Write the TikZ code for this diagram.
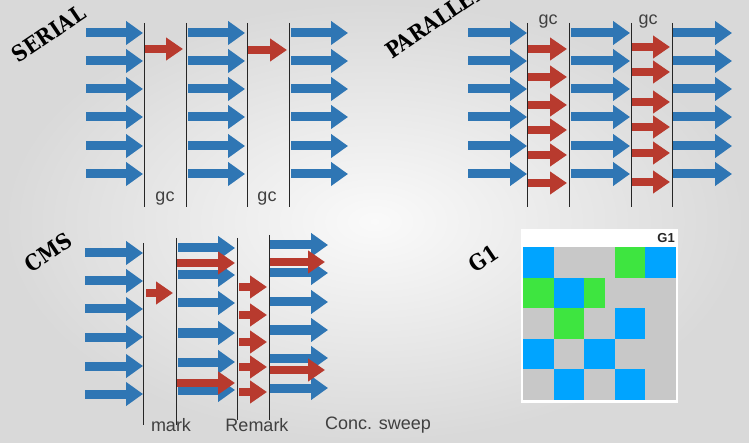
\documentclass[tikz,border=0pt]{standalone}
\usepackage{fontspec}
\usepackage{tikz}
\usetikzlibrary{arrows.meta}
\newfontfamily\lblfont{Liberation Sans}
\newfontfamily\stampfont{DejaVu Serif}[FakeStretch=0.88]
\definecolor{gcblue}{RGB}{47,118,180}
\definecolor{gcred}{RGB}{184,58,46}
\definecolor{gblue}{RGB}{0,164,255}
\definecolor{ggreen}{RGB}{62,229,64}
\definecolor{ggray}{RGB}{200,200,200}

\begin{document}
\begin{tikzpicture}[x=1pt, y=-1pt,
    bar/.style={draw=gcblue, line width=9pt, -{Triangle[length=17pt, width=23pt]}},
    rar/.style={draw=gcred, line width=8pt, -{Triangle[length=17pt, width=22pt]}},
    cut/.style={line width=1pt, black!85},
    lbl/.style={font=\lblfont\fontsize{18}{21}\selectfont, text=black!75, inner sep=0pt},
    stamp/.style={font=\stampfont\bfseries\fontsize{22}{25}\selectfont, rotate=34, anchor=south west, inner sep=0pt}]
  \clip (0,0) rectangle (749,443);
  \shade[inner color=gray!4, outer color=gray!30] (0,0) rectangle (749,443);

  % serial
  \node[stamp] (serial) at (19,64) {SERIAL};
  \foreach \x in {86,188,291}
    \foreach \y in {33,61,89,117,146,174}
      \draw[bar] (\x,\y) -- (\x+57,\y);
  \draw[rar] (145,49) -- (183,49);
  \draw[rar] (248,50) -- (287,50);
  \foreach \x in {144,186,247,289}
    \draw[cut] (\x,23) -- (\x,207);
  \node[lbl] (gcs1) at (165,199) {gc};
  \node[lbl] (gcs2) at (267,199) {gc};

  % parallel
  \node[stamp] (parallel) at (392,60) {PARALLEL};
  \foreach \x in {468,571,673}
    \foreach \y in {33,61,89,117,146,174}
      \draw[bar] (\x,\y) -- (\x+59,\y);
  \foreach \y in {49,77,105,130,155,183}
    \draw[rar] (527,\y) -- (567,\y);
  \foreach \y in {47,72,102,127,153,182}
    \draw[rar] (632,\y) -- (670,\y);
  \foreach \x in {527,569,631,672}
    \draw[cut] (\x,23) -- (\x,207);
  \node[lbl] (gcp1) at (548,22) {gc};
  \node[lbl] (gcp2) at (648,22) {gc};

  % cms
  \node[stamp] (cms) at (32,274) {CMS};
  \foreach \y in {253,281,309,337,366,394}
    \draw[bar] (85,\y) -- (143,\y);
  \draw[rar] (146,293) -- (173,293);
  \foreach \y in {248,275,303,333,362,390}
    \draw[bar] (178,\y) -- (235,\y);
  \foreach \y in {263,383}
    \draw[rar] (177,\y) -- (235,\y);
  \foreach \y in {287,315,342,367,392}
    \draw[rar] (239,\y) -- (267,\y);
  \foreach \y in {245,273,302,330,358,388}
    \draw[bar] (270,\y) -- (328,\y);
  \foreach \y in {262,370}
    \draw[rar] (269,\y) -- (325,\y);
  \foreach \x/\a/\b in {143/243/425, 176/238/425, 237/238/420, 269/235/420}
    \draw[cut] (\x,\a) -- (\x,\b);
  \node[lbl] (mark) at (171,425) {mark};
  \node[lbl] (remark) at (257,425) {Remark};
  \node[lbl] (sweep) at (378,425) {Conc. sweep};

  % g1
  \node[stamp] (g1) at (476,274) {G1};
  \fill[white] (521,229) rectangle (678,403);
  \fill[ggray] (523,247) rectangle (676,400);
  \foreach \c/\r in {0/0, 4/0, 1/1, 3/2, 0/3, 2/3, 1/4, 3/4}
    \fill[gblue] ({523+30.6*\c},{247+30.6*\r}) rectangle ++(30.6,30.6);
  \foreach \c/\r in {3/0, 0/1, 1/2}
    \fill[ggreen] ({523+30.6*\c},{247+30.6*\r}) rectangle ++(30.6,30.6);
  \fill[ggreen] ({523+30.6*2},{247+30.6}) rectangle ++(20.4,30.6);
  \node[font=\lblfont\bfseries\fontsize{13}{15}\selectfont, text=black!85, anchor=east, inner sep=0pt] (g1title) at (675,238) {G1};
\end{tikzpicture}
\end{document}
